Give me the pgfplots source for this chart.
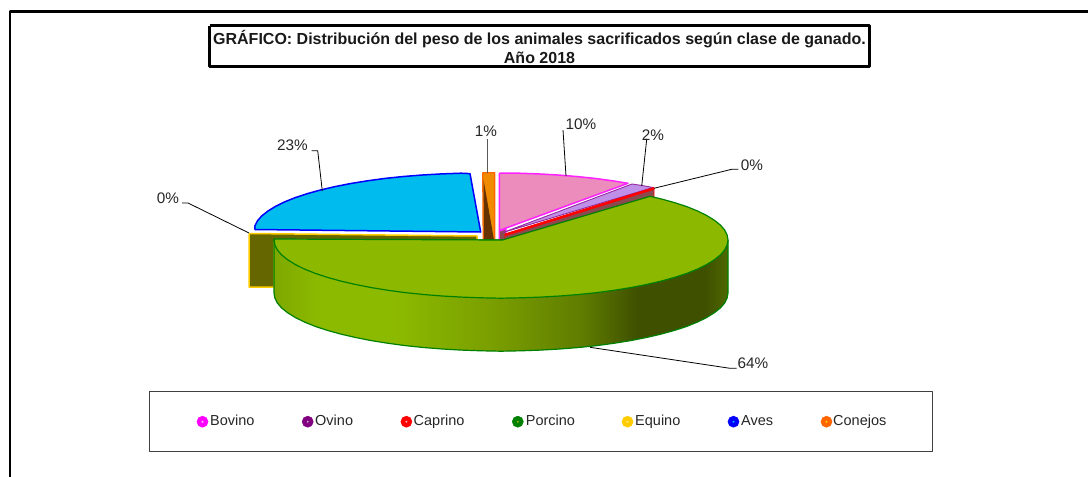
\documentclass[border=0pt]{standalone}
\usepackage{pgfplots}
\pgfplotsset{compat=1.18}
\usepackage{fontspec}
\setmainfont{Liberation Sans}
\definecolor{cMag}{HTML}{FF22FF}
\definecolor{cMagS}{HTML}{FF00FF}
\definecolor{cPink}{HTML}{EC8CBC}
\definecolor{cLil}{HTML}{C090E8}
\definecolor{cPur}{HTML}{800080}
\definecolor{cWall}{HTML}{8B4A50}
\definecolor{cGreenL}{HTML}{008000}
\definecolor{cGreenF}{HTML}{8CB900}
\definecolor{cGold}{HTML}{FFCC00}
\definecolor{cOlive}{HTML}{666600}
\definecolor{cBlueF}{HTML}{00BBEE}
\definecolor{cOrL}{HTML}{FF6600}
\definecolor{cOrF}{HTML}{F08A00}
\definecolor{cBrown}{HTML}{663300}
\definecolor{cRed}{HTML}{FF0000}
\definecolor{cBlue}{HTML}{0000FF}
\pgfdeclarehorizontalshading{sidegrad}{100bp}{%
rgb(0bp)=(.494,.659,0);rgb(25bp)=(.494,.659,0);rgb(30bp)=(.549,.729,0);rgb(38.5bp)=(.549,.729,0);%
rgb(50bp)=(.47,.61,0);rgb(59bp)=(.373,.486,0);rgb(65bp)=(.247,.314,0);rgb(72.5bp)=(.247,.314,0);%
rgb(75bp)=(.31,.408,0);rgb(100bp)=(.31,.408,0)}
\newcommand{\lab}[2]{\node[anchor=center,inner sep=0pt,font=\fontsize{15.3}{18}\selectfont,text=black!85] at (axis cs:#1) {#2};}
\newcommand{\leg}[2]{\node[anchor=west,inner sep=0pt,font=\fontsize{14.5}{17}\selectfont,text=black!85] at (axis cs:#1) {\strut #2};}
\begin{document}
\begin{tikzpicture}
\begin{axis}[scale only axis,width=1088pt,height=477pt,xmin=0,xmax=1088,ymin=0,ymax=477,y dir=reverse,
 hide axis,enlargelimits=false,clip=true,no markers,line join=round]
\addplot[draw=none] coordinates {(0,0)(1088,477)};
% frame
\addplot[black,line width=2.8pt] coordinates {(10,477)(10,11.3)(1088,11.3)};
% title box
\addplot[black,line width=2.8pt,fill=white] coordinates {(209.5,25.5)(869.5,25.5)(869.5,66.7)(209.5,66.7)(209.5,25.5)};
% equino
\addplot[cGold,line width=1.5pt,fill=cOlive] coordinates {(249,233.5)(477,236)(477,241)(274,241)(274,287)(249,287)(249,233.5)};
% conejos
\addplot[cOrL,line width=1.2pt,fill=cOrF] coordinates {(482.7,172.7)(494.8,172.7)(494.8,240)(483.2,240)(482.7,172.7)};
\addplot[draw=none,fill=cBrown] coordinates {(483.6,180)(484,240)(494,240)(483.6,180)};
% aves
\addplot[cBlue,line width=1.5pt,fill=cBlueF] coordinates {(254.7,229.5)(254.9,225.9)(257.4,220.9)(261.7,216)(267.7,211.2)(275.3,206.5)(284.4,202)(295,197.7)(307.1,193.7)(320.5,190)(335.1,186.6)(350.8,183.5)(367.5,180.8)(385.1,178.4)(403.4,176.5)(422.3,175)(441.6,173.9)(461.2,173.2)(470,173.6)(480.7,232)(254.7,229.5)};
% bovino
\addplot[cMag,line width=1.3pt,fill=cWall] coordinates {(499.3,231)(499.3,241)(506,241)(506,229)(499.3,231)};
\addplot[cMag,line width=1.5pt,fill=cPink] coordinates {(499.3,173.2)(518.8,173.2)(538.4,173.9)(557.7,175)(576.6,176.5)(594.9,178.4)(612.5,180.8)(628,183.3)(499.3,230.5)(499.3,173.2)};
% ovino
\addplot[cPur!70!cLil,line width=.9pt,fill=cLil] coordinates {(503,232.5)(632,184)(642,185.5)(653,187.5)(503,232.5)};
% caprino
\addplot[draw=cRed,line width=.8pt,fill=cWall] coordinates {(505,234)(654,187.5)(654,197)(505,241)(505,234)};
\addplot[cRed,line width=2.4pt] coordinates {(505,235)(654,188.5)};
% porcino side
\addplot[draw=cGreenL,line width=1.2pt,shade,shading=sidegrad] coordinates {(728,240)(728,293)(727.1,298.1)(724.6,303.1)(720.3,308)(714.3,312.8)(706.7,317.5)(697.6,322)(687,326.3)(674.9,330.3)(661.5,334)(646.9,337.4)(631.2,340.5)(614.5,343.2)(596.9,345.6)(578.6,347.5)(559.7,349)(540.4,350.1)(520.8,350.8)(501,351.2)(481.2,350.8)(461.6,350.1)(442.3,349)(423.4,347.5)(405.1,345.6)(387.5,343.2)(370.8,340.5)(355.1,337.4)(340.5,334)(327.1,330.3)(315,326.3)(304.4,322)(295.3,317.5)(287.7,312.8)(281.7,308)(277.4,303.1)(274.9,298.1)(274,293)(274,240)(728,240)};
% porcino top
\addplot[draw=cGreenL,line width=1.2pt,fill=cGreenF] coordinates {(502.5,240)(650,196.3)(661.5,199)(674.9,202.7)(687,206.7)(697.6,211)(706.7,215.5)(714.3,220.2)(720.3,225)(724.6,229.9)(727.1,234.9)(728,240)(727.1,245.1)(724.6,250.1)(720.3,255)(714.3,259.8)(706.7,264.5)(697.6,269)(687,273.3)(674.9,277.3)(661.5,281)(646.9,284.4)(631.2,287.5)(614.5,290.2)(596.9,292.6)(578.6,294.5)(559.7,296)(540.4,297.1)(520.8,297.8)(501,298.2)(481.2,297.8)(461.6,297.1)(442.3,296)(423.4,294.5)(405.1,292.6)(387.5,290.2)(370.8,287.5)(355.1,284.4)(340.5,281)(327.1,277.3)(315,273.3)(304.4,269)(295.3,264.5)(287.7,259.8)(281.7,255)(277.4,250.1)(274.9,245.1)(274,239)(502.5,240)};
% leaders
\addplot[black,line width=.8pt] coordinates {(311.7,150.7)(317.7,150.7)(322.3,191)};
\addplot[black!65,line width=1.3pt] coordinates {(487.7,139.3)(487.7,173)};
\addplot[black,line width=.8pt] coordinates {(563,130)(566,176)};
\addplot[black,line width=.8pt] coordinates {(645,139.3)(646.7,139.3)(641.7,186)};
\addplot[black,line width=.8pt] coordinates {(738.3,169.3)(731.7,169.3)(654,188.3)};
\addplot[black,line width=.8pt] coordinates {(182,203)(188,203)(249,233)};
\addplot[black,line width=.8pt] coordinates {(590,347.3)(730,368.3)(736.7,368.3)};
% legend frame
\addplot[black!75,line width=1pt] coordinates {(149,391)(932,391)(932,451)(149,451)(149,391)};
% legend swatches
\pgfplotsset{swatch/.style={only marks,mark=square*,mark size=5.6pt,color=#1,mark options={rounded corners=.6pt}},
 dot/.style={only marks,mark=square*,mark size=.8pt,color=#1}}
\addplot[swatch=cMagS] coordinates {(202.5,421.7)};
\addplot[swatch=cPur] coordinates {(307.7,421.7)};
\addplot[swatch=cRed] coordinates {(406.4,421.7)};
\addplot[swatch=cGreenL] coordinates {(517.8,421.7)};
\addplot[swatch=cGold] coordinates {(627.5,421.7)};
\addplot[swatch=cBlue] coordinates {(733.5,421.7)};
\addplot[swatch=cOrL] coordinates {(826.5,421.7)};
\addplot[dot=white!70!cMagS] coordinates {(202.5,421.7)};
\addplot[dot=white!60!cPur] coordinates {(307.7,421.7)};
\addplot[dot=white!70!cRed] coordinates {(406.4,421.7)};
\addplot[dot=cGreenF] coordinates {(517.8,421.7)};
\addplot[dot=white!50!cGold] coordinates {(627.5,421.7)};
\addplot[dot=cBlueF] coordinates {(733.5,421.7)};
\addplot[dot=cGold] coordinates {(826.5,421.7)};
% texts
\node[align=center,inner sep=0pt,font=\fontsize{16}{19.5}\selectfont\bfseries,text=black!90] at (axis cs:539.5,47) {GRÁFICO: Distribución del peso de los animales sacrificados según clase de ganado.\\Año 2018};
\lab{292.5,145}{23\%}
\lab{486,131}{1\%}
\lab{581,124}{10\%}
\lab{653,135}{2\%}
\lab{752,165}{0\%}
\lab{168,198}{0\%}
\lab{753,363}{64\%}
\leg{210,421.7}{Bovino}
\leg{315,421.7}{Ovino}
\leg{413.5,421.7}{Caprino}
\leg{525.7,421.7}{Porcino}
\leg{635,421.7}{Equino}
\leg{741,421.7}{Aves}
\leg{833,421.7}{Conejos}
\end{axis}
\end{tikzpicture}
\end{document}
